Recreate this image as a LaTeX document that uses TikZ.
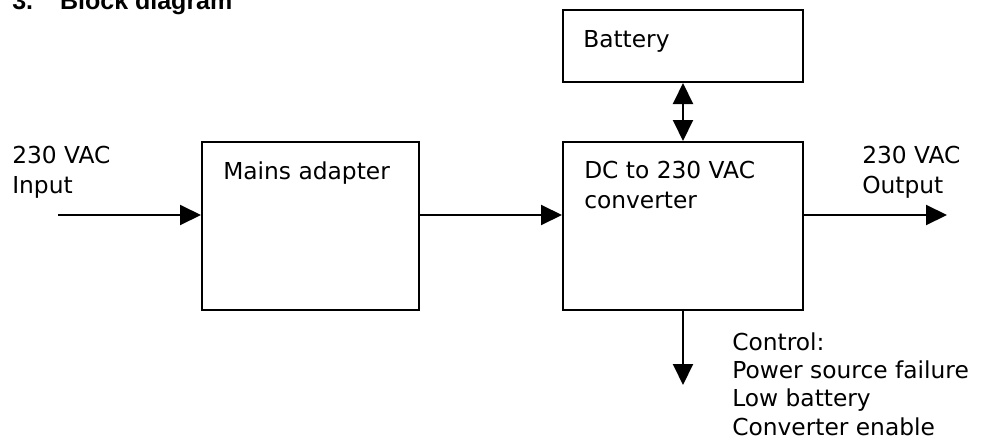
\documentclass[tikz,border=0pt]{standalone}
\usepackage{fontspec}
\setmainfont{DejaVu Sans}
\newfontfamily\titlefont{Liberation Sans}
\usetikzlibrary{arrows.meta}
\tikzset{
  box/.style={draw, line width=1.5pt, rectangle, inner sep=0pt},
  txt/.style={anchor=base west, inner sep=0pt, align=left, font=\fontsize{17.5pt}{22.5pt}\selectfont},
  txtc/.style={txt, font=\fontsize{17.5pt}{21.25pt}\selectfont},
  conn/.style={line width=1.5pt, -{Triangle[length=15.75pt,width=15pt]}},
  dconn/.style={line width=1.5pt, {Triangle[length=15.75pt,width=15pt]}-{Triangle[length=15.75pt,width=15pt]}}
}
\begin{document}
\begin{tikzpicture}[x=0.75pt,y=-0.75pt]
\useasboundingbox (0,0) rectangle (981,446);
\node[anchor=base west, inner sep=0pt, font=\titlefont\bfseries\fontsize{18.75pt}{22pt}\selectfont] (title) at (12,9) {3.\hspace{20.25pt}Block diagram};
% boxes
\node[box, minimum width=180pt, minimum height=54pt] (bat) at (683,46) {};
\node[box, minimum width=162.75pt, minimum height=126pt] (mains) at (310.5,226) {};
\node[box, minimum width=180pt, minimum height=126pt] (dc) at (683,226) {};
% texts (base anchor = baseline of the last line)
\node[txt] (battxt) at (583,47) {Battery};
\node[txt] (mainstxt) at (223,179) {Mains adapter};
\node[txt] (dctxt) at (584,208) {DC to 230 VAC\\converter};
\node[txt] (intxt) at (12,193) {230 VAC\\Input};
\node[txt] (outtxt) at (862,193) {230 VAC\\Output};
\node[txtc] (ctrltxt) at (732,435) {Control:\\Power source failure\\Low battery\\Converter enable};
% connectors
\coordinate (in) at (58,215);
\coordinate (out) at (947,215);
\coordinate (ctrl) at (683,385);
\draw[conn] (in) -- (in -| mains.west);
\draw[conn] (in -| mains.east) -- (in -| dc.west);
\draw[conn] (in -| dc.east) -- (out);
\draw[dconn] (bat.south) -- (dc.north);
\draw[conn] (dc.south) -- (ctrl);
\end{tikzpicture}
\end{document}
